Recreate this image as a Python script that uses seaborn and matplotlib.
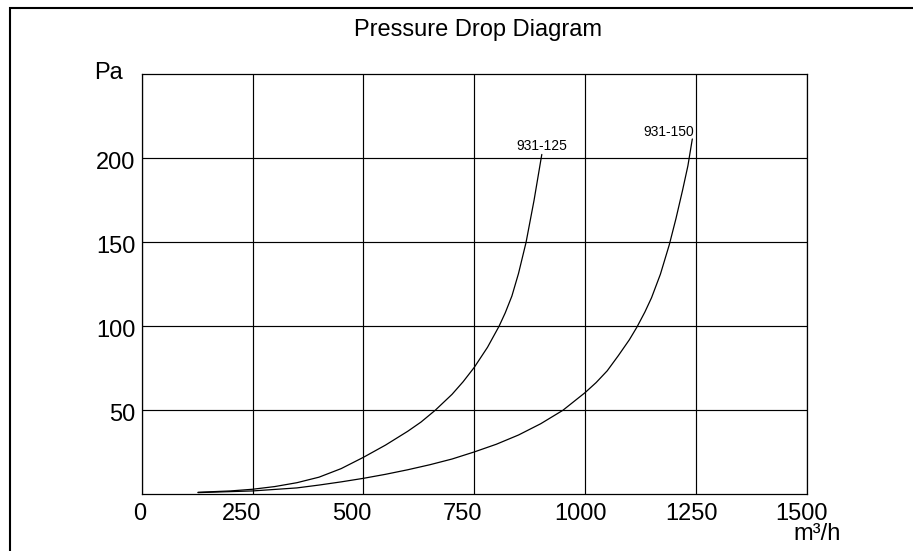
import matplotlib
matplotlib.use("Agg")
import matplotlib.pyplot as plt
import numpy as np
import pandas as pd
import seaborn as sns
from matplotlib.transforms import ScaledTranslation
from matplotlib.patches import Rectangle

# ---- data ----
flow_125 = [127, 200, 250, 300, 350, 400, 450, 500, 550, 600, 630, 662, 700, 725,
            750, 780, 806, 820, 835, 850, 867, 885, 901, 902.5]
dp_125 = [1.2, 2.0, 3.0, 4.6, 6.9, 10.2, 15.3, 22.0, 29.3, 37.5, 43.0, 50.0, 59.5, 67.0,
          75.5, 87.5, 100.0, 108.0, 118.0, 131.5, 150.0, 175.0, 200.0, 202.3]

flow_150 = [127, 250, 350, 400, 450, 500, 550, 600, 650, 700, 750, 800, 850, 900,
            950, 1000, 1025, 1050, 1075, 1100, 1117, 1135, 1150, 1170, 1190, 1205,
            1220, 1232, 1242]
dp_150 = [1.0, 2.0, 3.8, 5.5, 7.4, 9.5, 11.9, 14.6, 17.6, 21.0, 25.2, 29.8, 35.3, 42.0,
          50.0, 60.5, 66.5, 73.5, 82.5, 92.0, 99.5, 108.5, 117.0, 131.0, 148.5, 164.0,
          181.0, 195.5, 211.5]

series_names = ["931-125", "931-150"]
x_ticks = [0, 250, 500, 750, 1000, 1250, 1500]
y_ticks = [50, 100, 150, 200]
title = "Pressure Drop Diagram"
y_unit = "Pa"
x_unit = "m³/h"

df = pd.concat([
    pd.DataFrame({"flow": flow_125, "dp": dp_125, "series": series_names[0]}),
    pd.DataFrame({"flow": flow_150, "dp": dp_150, "series": series_names[1]}),
], ignore_index=True)

sns.set_theme(style="white")
plt.rcParams["font.family"] = ["Liberation Sans", "DejaVu Sans"]

W, H = 913, 551
fig = plt.figure(figsize=(W / 100, H / 100), dpi=100)
left, right, bottom, top = 141.7, 806.7, 494.3, 74.3
ax = fig.add_axes([left / W, 1 - bottom / H, (right - left) / W, (bottom - top) / H])

sns.lineplot(data=df, x="flow", y="dp", hue="series", palette=["black", "black"],
             estimator=None, sort=True, legend=False, linewidth=0.9, ax=ax)

ax.set_xlim(0, 1500)
ax.set_ylim(0, 250)
ax.set_xticks(x_ticks)
ax.set_xticklabels([str(v) for v in x_ticks])
ax.set_yticks(y_ticks)
ax.set_yticklabels([str(v) for v in y_ticks])
ax.set_xlabel("")
ax.set_ylabel("")
ax.tick_params(axis="both", length=0, labelsize=17, colors="black")
ax.tick_params(axis="x", pad=6)
ax.tick_params(axis="y", pad=4.3)
ax.grid(True, color="black", linewidth=0.85)
for s in ax.spines.values():
    s.set_visible(True)
    s.set_color("black")
    s.set_linewidth(0.9)

px = fig.dpi_scale_trans
for i, lbl in enumerate(ax.get_xticklabels()):
    if i == 0:
        lbl.set_transform(lbl.get_transform() + ScaledTranslation(-2 / 100, 0, px))
    else:
        lbl.set_horizontalalignment("left")
        lbl.set_transform(lbl.get_transform() + ScaledTranslation(-31 / 100, 0, px))
for lbl in ax.get_yticklabels():
    lbl.set_transform(lbl.get_transform() + ScaledTranslation(0, -2.5 / 100, px))

ax.set_title(title, fontsize=17, pad=27.6, x=0.506, color="black")

# axis unit labels
ax.text(0, 250, y_unit, fontsize=17, ha="right", va="baseline", color="black",
        transform=ax.transData + ScaledTranslation(-18.7 / 100, -4.7 / 100, px))
ax.text(1500, 0, x_unit, fontsize=17, ha="left", va="baseline", color="black",
        transform=ax.transData + ScaledTranslation(-13.7 / 100, -45.7 / 100, px))

# curve labels at curve ends
ax.annotate(series_names[0], xy=(flow_125[-1], dp_125[-1]), xytext=(0, 3.0),
            textcoords="offset points", ha="center", va="baseline", fontsize=10, color="black")
ax.annotate(series_names[1], xy=(flow_150[-1], dp_150[-1]), xytext=(1.3, 2.2),
            textcoords="offset points", ha="right", va="baseline", fontsize=10, color="black")

# figure border
fig.add_artist(Rectangle((10 / W, -0.1), 1.2, 1.1 - 8 / H, transform=fig.transFigure,
                         fill=False, edgecolor="black", linewidth=1.5))

fig.savefig("out.png", dpi=100)
